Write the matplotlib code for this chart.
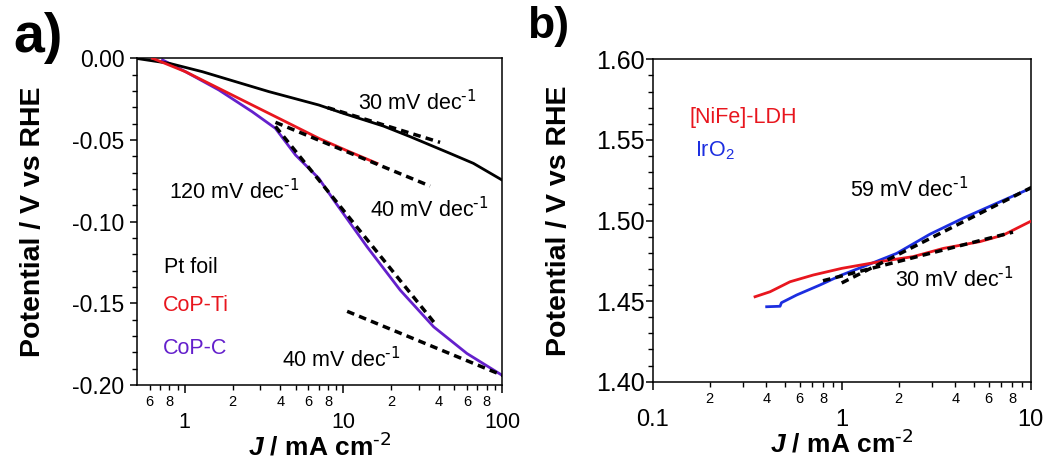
import matplotlib
matplotlib.use("Agg")
import matplotlib.pyplot as plt
import numpy as np
from matplotlib.ticker import FixedLocator, FixedFormatter, MultipleLocator, NullFormatter, FormatStrFormatter

plt.rcParams['font.family'] = 'Liberation Sans'
plt.rcParams['mathtext.fontset'] = 'custom'
plt.rcParams['mathtext.default'] = 'regular'
plt.rcParams['mathtext.it'] = 'Liberation Sans:italic:bold'
plt.rcParams['axes.linewidth'] = 1.1

# ---- a) HER, Tafel region ----
pt_j = [0.49, 0.80, 1.29, 2.09, 3.39, 7.0, 10.0, 17.9, 26.4, 47, 66, 100]
pt_v = [0.0, -0.0031, -0.0082, -0.0143, -0.0204, -0.0286, -0.0337, -0.0415, -0.048, -0.0582, -0.0643, -0.0745]

ti_j = [0.626, 1.01, 1.64, 2.66, 4.32, 7.0, 10.5, 16.3]
ti_v = [0.0, -0.0082, -0.0184, -0.0286, -0.0388, -0.049, -0.0565, -0.0643]

c_j = [0.724, 1.01, 1.64, 2.66, 3.73, 4.99, 7.0, 8.72, 14.1, 22.8, 37.1, 60.1, 100]
c_v = [-0.001, -0.0082, -0.0194, -0.0327, -0.0429, -0.0592, -0.0735, -0.087, -0.1154, -0.1419, -0.1644, -0.1807, -0.194]

# Tafel fits: (j_start, j_end, j_anchor, v_anchor, slope in V/dec)
fits_a = [
    (7.93, 40.7, 17.96, -0.0408, -0.030),
    (3.73, 35.2, 11.46, -0.0587, -0.040),
    (3.73, 37.9, 11.89, -0.1021, -0.120),
    (10.56, 101.0, 32.66, -0.1745, -0.040),
]
labels_a = ["30 mV dec$^{\\text{-1}}$", "40 mV dec$^{\\text{-1}}$",
            "120 mV dec$^{\\text{-1}}$", "40 mV dec$^{\\text{-1}}$"]
label_pos_a = [(12.4, -0.0317), (14.8, -0.0970), (0.79, -0.0862), (4.13, -0.1888)]

# ---- b) OER, Tafel region ----
ldh_j = [0.348, 0.418, 0.533, 0.708, 1.0, 1.595, 2.39, 3.45, 5.39, 7.17, 9.92]
ldh_v = [1.4527, 1.4558, 1.462, 1.4662, 1.4703, 1.4745, 1.4776, 1.4827, 1.4869, 1.491, 1.4993]

ir_j = [0.401, 0.472, 0.48, 0.578, 0.768, 1.0, 1.302, 1.954, 2.93, 4.40, 6.61, 10.0]
ir_v = [1.4465, 1.4468, 1.4490, 1.4538, 1.46, 1.4662, 1.4714, 1.4796, 1.4915, 1.5015, 1.5107, 1.52]

fits_b = [
    (1.0, 10.1, 3.18, 1.4909, 0.059),
    (0.796, 8.06, 2.533, 1.4777, 0.030),
]
labels_b = ["59 mV dec$^{\\text{-1}}$", "30 mV dec$^{\\text{-1}}$"]
label_pos_b = [(1.106, 1.5147), (1.913, 1.4585)]

red = '#e8161e'
purple = '#6420cc'
blue = '#1c2ee0'

fig = plt.figure(figsize=(10.5, 4.59), dpi=100)
ax1 = fig.add_axes([0.1305, 0.1612, 0.3476, 0.7118])
ax2 = fig.add_axes([0.6216, 0.1684, 0.3600, 0.7024])


def tafel_line(ax, fit):
    j0, j1, ja, va, s = fit
    js = np.array([j0, j1])
    ax.plot(js, va + s * np.log10(js / ja), color='k', lw=2.5,
            dashes=(2.2, 1.5), solid_capstyle='butt', zorder=4)


def style_axis(ax, xmaj, xmaj_lab, xmin, xmin_lab, ysize, xsize, ypad):
    ax.set_xscale('log')
    ax.xaxis.set_major_locator(FixedLocator(xmaj))
    ax.xaxis.set_major_formatter(FixedFormatter(xmaj_lab))
    ax.xaxis.set_minor_locator(FixedLocator(xmin))
    ax.xaxis.set_minor_formatter(FixedFormatter(xmin_lab))
    ax.yaxis.set_major_locator(MultipleLocator(0.05))
    ax.yaxis.set_major_formatter(FormatStrFormatter('%.2f'))
    ax.yaxis.set_minor_locator(MultipleLocator(0.01))
    ax.yaxis.set_minor_formatter(NullFormatter())
    ax.tick_params(axis='x', which='major', direction='out', length=6, width=1.1,
                   pad=13.5, labelsize=xsize)
    ax.tick_params(axis='x', which='minor', direction='out', length=3.5, width=1.0,
                   pad=4.0, labelsize=10.5)
    ax.tick_params(axis='y', which='major', direction='out', length=5, width=1.1,
                   pad=ypad, labelsize=ysize)
    ax.tick_params(axis='y', which='minor', direction='out', length=3.5, width=1.0)
    ax.set_ylabel("Potential / V vs RHE", fontsize=20.5, fontweight='bold')
    ax.set_xlabel("$\\mathit{J}$ / mA cm$^{\\text{-2}}$", fontsize=19, fontweight='bold')


# panel a
ax1.plot(pt_j, pt_v, color='k', lw=2.0, zorder=3)
ax1.plot(ti_j, ti_v, color=red, lw=2.0, zorder=3)
ax1.plot(c_j, c_v, color=purple, lw=2.0, zorder=2)
for fit in fits_a:
    tafel_line(ax1, fit)
for txt, (x, y) in zip(labels_a, label_pos_a):
    ax1.text(x, y, txt, fontsize=15.5, va='baseline', ha='left')
ax1.text(0.738, -0.1313, "Pt foil", fontsize=15.5, color='k', va='baseline')
ax1.text(0.727, -0.155, "CoP-Ti", fontsize=15.5, color=red, va='baseline')
ax1.text(0.727, -0.181, "CoP-C", fontsize=15.5, color=purple, va='baseline')

style_axis(ax1, [1, 10, 100], ['1', '10', '100'],
           [0.6, 0.7, 0.8, 0.9, 2, 3, 4, 5, 6, 7, 8, 9, 20, 30, 40, 50, 60, 70, 80, 90],
           ['6', '', '8', '', '2', '', '4', '', '6', '', '8', '',
            '2', '', '4', '', '6', '', '8', ''],
           16.5, 15.5, 4.0)
ax1.set_xlim(0.5, 100)
ax1.set_ylim(-0.20, 0.0)
ax1.yaxis.set_label_coords(-0.25, 0.5)
ax1.xaxis.set_label_coords(0.5, -0.146)

# panel b
ax2.plot(ldh_j, ldh_v, color=red, lw=2.0, zorder=3)
ax2.plot(ir_j, ir_v, color=blue, lw=2.0, zorder=2)
for fit in fits_b:
    tafel_line(ax2, fit)
for txt, (x, y) in zip(labels_b, label_pos_b):
    ax2.text(x, y, txt, fontsize=15.5, va='baseline', ha='left')
ax2.text(0.157, 1.5603, "[NiFe]-LDH", fontsize=15.5, color=red, va='baseline')
ax2.text(0.167, 1.5396, "IrO$_2$", fontsize=15.5, color=blue, va='baseline')

style_axis(ax2, [0.1, 1, 10], ['0.1', '1', '10'],
           [0.2, 0.3, 0.4, 0.5, 0.6, 0.7, 0.8, 0.9, 2, 3, 4, 5, 6, 7, 8, 9],
           ['2', '', '4', '', '6', '', '8', '', '2', '', '4', '', '6', '', '8', ''],
           18, 17, 0.5)
ax2.set_xlim(0.1, 10)
ax2.set_ylim(1.40, 1.60)
ax2.yaxis.set_label_coords(-0.2135, 0.5)
ax2.xaxis.set_label_coords(0.5, -0.15)

fig.text(13 / 1050, 1 - 52 / 459, "a)", fontsize=40, fontweight='bold', va='baseline')
fig.text(527 / 1050, 1 - 38 / 459, "b)", fontsize=32, fontweight='bold', va='baseline')

fig.savefig("out.png", dpi=100)
